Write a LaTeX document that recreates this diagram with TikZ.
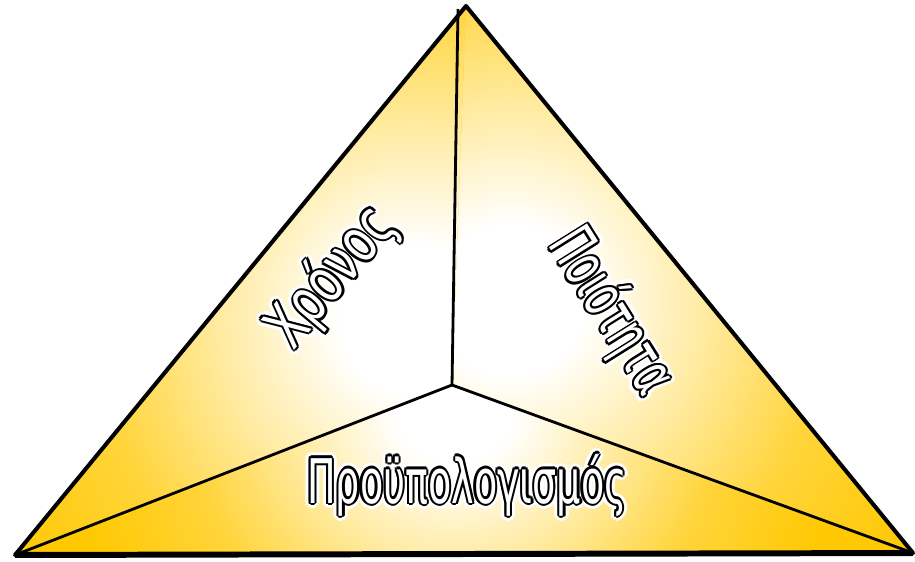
\documentclass[tikz,border=0pt]{standalone}
\usepackage{fontspec}
\newfontfamily\trifont{DejaVu Sans Condensed}
\usetikzlibrary{calc}

\definecolor{goldyellow}{RGB}{255,200,0}
\pgfdeclareradialshading{goldglow}{\pgfpoint{0bp}{0bp}}{%
  color(0bp)=(white); color(3bp)=(white); color(8bp)=(goldyellow!38!white);
  color(13bp)=(goldyellow!78!white); color(19bp)=(goldyellow);
  color(50bp)=(goldyellow)}

\tikzset{
  tritext/.style={font=\trifont\fontsize{28}{28}\selectfont, inner sep=0pt},
  edge/.style={draw=black, line width=2.3pt, line join=round},
  spoke/.style={draw=black, line width=1.6pt}
}

% one face of the triangle, lit from a point inside it
\newcommand{\goldface}[3]{% corners, centre of light, radius
  \begin{scope}
    \clip #1 -- cycle;
    \fill[goldyellow] #1 -- cycle;
    \shade[shading=goldglow] #2 circle (#3);
  \end{scope}
}

% text with a white glow and a thin black rim
\newcommand{\glowtext}[6]{% name, position, angle, xscale, yscale, text
  \foreach \a in {0,30,...,330}
    \node[tritext, white, rotate=#3, shift={(\a:3pt)}] at #2 {\scalebox{#4}[#5]{#6}};
  \foreach \a in {0,45,...,315}
    \node[tritext, black, rotate=#3, shift={(\a:1.25pt)}] at #2 {\scalebox{#4}[#5]{#6}};
  \node[tritext, white, rotate=#3] (#1) at #2 {\scalebox{#4}[#5]{#6}};
}

\begin{document}
\begin{tikzpicture}[x=0.02cm, y=-0.02cm]
\useasboundingbox (0,0) rectangle (915,561);

% corners of the triangle and the meeting point inside
\coordinate (apex) at (466,6);
\coordinate (left) at (15,555);
\coordinate (right) at (913,553);
\coordinate (mid) at (452,385);
\coordinate (top) at (458,9);

% golden faces
\goldface{(apex) -- (mid) -- (left)}{(415,320)}{620}
\goldface{(apex) -- (right) -- (mid)}{(510,300)}{620}
\goldface{(left) -- (mid) -- (right)}{(455,400)}{520}

% three faces
\draw[spoke] (mid) -- (top);
\draw[spoke] (mid) -- (left);
\draw[spoke] (mid) -- (right);
\draw[edge] (apex) -- (right) -- (left) -- cycle;
\draw[black, line width=3.4pt] (left) -- (right);

% labels
\glowtext{time}{(332,277)}{50}{1.0}{1.25}{Χρόνος}
\glowtext{quality}{(611,312)}{-58}{0.85}{1.25}{Ποιότητα}
\glowtext{budget}{(467,485)}{0}{0.86}{1.25}{Προϋπολογισμός}
\end{tikzpicture}
\end{document}
